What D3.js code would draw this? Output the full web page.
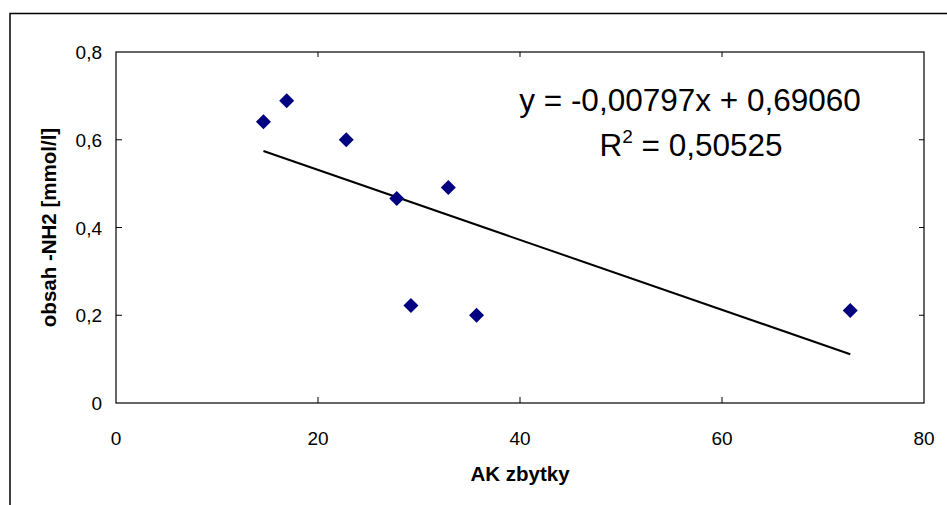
<!DOCTYPE html>
<html>
<head>
<meta charset="UTF-8">
<title>scatter_trend</title>
<style type="text/css">
	body { margin: 0; background: #fff; }
	text { font-family: "Liberation Sans", Arial, sans-serif; fill: #000; }
	.tick-label { font-size: 19px; }
	.axis-title { font-size: 20.5px; font-weight: bold; }
	.equation { font-size: 31.5px; text-anchor: middle; }
</style>
<script type="text/javascript" src="https://cdn.jsdelivr.net/npm/d3@7/dist/d3.min.js"></script>
</head>
<body>
<div id="div_main"></div>
<script type="text/javascript">

	// data
	var akZbytky = [14.6, 16.9, 22.8, 27.8, 29.2, 32.9, 35.7, 72.7];
	var obsahNH2 = [0.641, 0.689, 0.600, 0.466, 0.222, 0.491, 0.200, 0.211];
	var xTicks = [0, 20, 40, 60, 80];
	var yTicks = [0, 0.2, 0.4, 0.6, 0.8];
	var slope = -0.00797, intercept = 0.69060;
	var eqLine1 = "y = -0,00797x + 0,69060";
	var eqR2 = "0,50525";

	function draw() {
		var w = 947, h = 505;
		var pLeft = 116, pRight = 924, pTop = 52, pBottom = 403;

		var svg = d3.select("#div_main").append("svg")
			.attr("width", w)
			.attr("height", h);

		// outer chart frame (cut off at right and bottom)
		svg.append("rect")
			.attr("x", 10).attr("y", 13.5)
			.attr("width", 960).attr("height", 520)
			.attr("fill", "none").attr("stroke", "#000").attr("stroke-width", 1.5);

		var x = d3.scaleLinear().domain([0, 80]).range([pLeft, pRight]);
		var y = d3.scaleLinear().domain([0, 0.8]).range([pBottom, pTop]);

		var fmt = function (d) { return String(d).replace(".", ","); };

		// plot area box
		svg.append("rect")
			.attr("x", pLeft).attr("y", pTop)
			.attr("width", pRight - pLeft).attr("height", pBottom - pTop)
			.attr("fill", "none").attr("stroke", "#000").attr("stroke-width", 1.2);

		// inner ticks on all four sides
		var xIn = xTicks.slice(1, -1), yIn = yTicks.slice(1, -1);
		svg.selectAll("line.xt").data(xIn).enter().append("line")
			.attr("x1", function (d) { return x(d); }).attr("x2", function (d) { return x(d); })
			.attr("y1", pBottom).attr("y2", pBottom - 6)
			.attr("stroke", "#000");
		svg.selectAll("line.xt2").data(xIn).enter().append("line")
			.attr("x1", function (d) { return x(d); }).attr("x2", function (d) { return x(d); })
			.attr("y1", pTop).attr("y2", pTop + 5)
			.attr("stroke", "#000");
		svg.selectAll("line.yt").data(yIn).enter().append("line")
			.attr("x1", pLeft).attr("x2", pLeft + 6)
			.attr("y1", function (d) { return y(d); }).attr("y2", function (d) { return y(d); })
			.attr("stroke", "#000");
		svg.selectAll("line.yt2").data(yIn).enter().append("line")
			.attr("x1", pRight).attr("x2", pRight - 5)
			.attr("y1", function (d) { return y(d); }).attr("y2", function (d) { return y(d); })
			.attr("stroke", "#000");

		// tick labels
		svg.selectAll("text.xl").data(xTicks).enter().append("text")
			.attr("class", "tick-label")
			.attr("x", function (d) { return x(d); })
			.attr("y", 445)
			.attr("text-anchor", "middle")
			.text(fmt);
		svg.selectAll("text.yl").data(yTicks).enter().append("text")
			.attr("class", "tick-label")
			.attr("x", 102)
			.attr("y", function (d) { return y(d) + 7; })
			.attr("text-anchor", "end")
			.text(fmt);

		// axis titles
		svg.append("text").attr("class", "axis-title")
			.attr("x", x(40)).attr("y", 481)
			.attr("text-anchor", "middle")
			.text("AK zbytky");
		svg.append("text").attr("class", "axis-title")
			.attr("transform", "translate(56," + ((pTop + pBottom) / 2) + ") rotate(-90)")
			.attr("text-anchor", "middle")
			.text("obsah -NH2 [mmol/l]");

		// trend line over data range
		var xMin = d3.min(akZbytky), xMax = d3.max(akZbytky);
		svg.append("line")
			.attr("x1", x(xMin)).attr("y1", y(slope * xMin + intercept))
			.attr("x2", x(xMax)).attr("y2", y(slope * xMax + intercept))
			.attr("stroke", "#000").attr("stroke-width", 2);

		// diamond markers
		var pts = akZbytky.map(function (d, i) { return [d, obsahNH2[i]]; });
		svg.selectAll("path.pt").data(pts).enter().append("path")
			.attr("transform", function (d) { return "translate(" + x(d[0]) + "," + y(d[1]) + ")"; })
			.attr("d", "M0,-7.5L7.5,0L0,7.5L-7.5,0Z")
			.attr("fill", "#000080");

		// regression equation
		svg.append("text").attr("class", "equation")
			.attr("x", 690).attr("y", 111)
			.text(eqLine1);
		var r2 = svg.append("text").attr("class", "equation")
			.attr("x", 691).attr("y", 156);
		r2.append("tspan").text("R");
		r2.append("tspan").attr("dy", -13).attr("font-size", "19px").text("2");
		r2.append("tspan").attr("dy", 13).text(" = " + eqR2);
	}

	draw();

</script>
</body>
</html>
